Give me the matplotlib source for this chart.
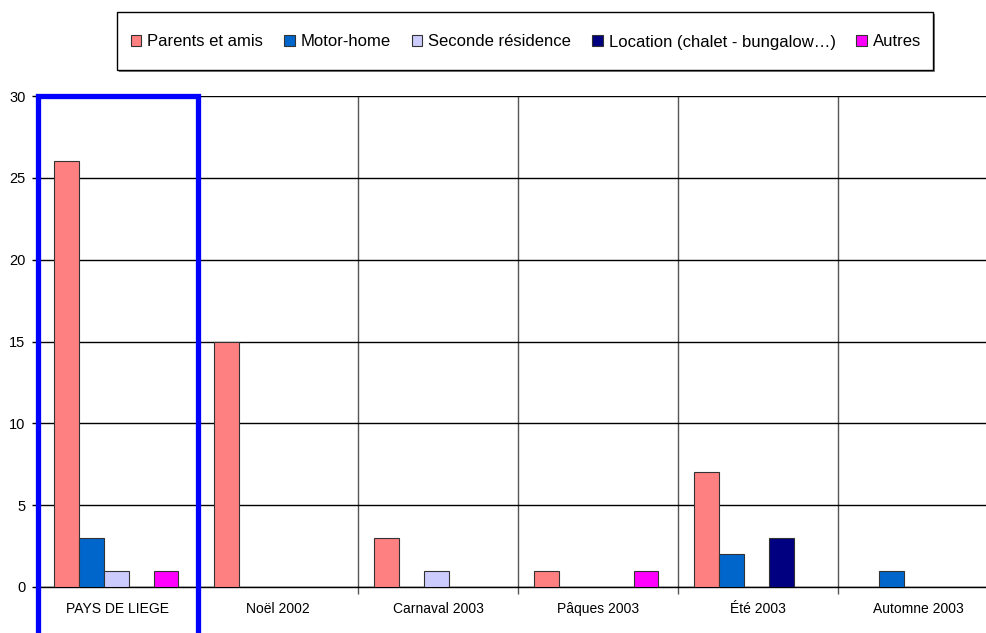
import matplotlib
matplotlib.use("Agg")
import matplotlib.pyplot as plt
import numpy as np
from matplotlib.patches import Rectangle
from matplotlib.lines import Line2D

categories = ["PAYS DE LIEGE", "Noël 2002", "Carnaval 2003", "Pâques 2003", "Été 2003", "Automne 2003"]
series_names = ["Parents et amis", "Motor-home", "Seconde résidence",
                "Location (chalet - bungalow\u2026)", "Autres"]
parents = [26, 15, 3, 1, 7, 0]
motorhome = [3, 0, 0, 0, 2, 1]
seconde = [1, 0, 1, 0, 0, 0]
location = [0, 0, 0, 0, 3, 0]
autres = [1, 0, 0, 1, 0, 0]
series = [parents, motorhome, seconde, location, autres]
colors = ["#FF8080", "#0066CC", "#CCCCFF", "#000080", "#FF00FF"]
yticks = [0, 5, 10, 15, 20, 25, 30]

plt.rcParams['font.family'] = ['Liberation Sans', 'DejaVu Sans']

W, H = 987, 633
fig = plt.figure(figsize=(W / 100, H / 100), dpi=100)
ax = fig.add_axes([38 / W, (H - 587) / H, 960 / W, (587 - 96) / H])

x = np.arange(len(categories))
bw = 0.156
handles = []
for i, (vals, col, name) in enumerate(zip(series, colors, series_names)):
    v = np.array(vals, dtype=float)
    v[v == 0] = np.nan
    offs = (i - 2) * bw - 0.012
    ax.bar(x + offs, v, width=bw, color=col, edgecolor="#333333", linewidth=0.8, zorder=3)
    handles.append(Rectangle((0, 0), 1, 1, facecolor=col, edgecolor="#333333", linewidth=0.8))

ax.set_xlim(-0.5, len(categories) - 0.5)
ax.set_ylim(0, 30)
ax.set_yticks(yticks)
ax.set_yticklabels([str(t) for t in yticks], fontsize=10.5)
ax.set_xticks(np.arange(len(categories) - 1) + 0.5)
ax.set_xticklabels([])
ax.set_xticks(x, minor=True)
ax.set_xticklabels(categories, minor=True, fontsize=10)
ax.tick_params(axis='x', which='minor', length=0, pad=11)
ax.tick_params(axis='x', which='major', length=5, color="#555555", width=1)
ax.tick_params(axis='y', length=4, width=1, pad=5)
ax.grid(axis='y', color='black', linewidth=1, zorder=0)
ax.grid(axis='x', which='major', color='#555555', linewidth=1, zorder=0)
for s in ['top', 'right']:
    ax.spines[s].set_visible(False)
ax.spines['bottom'].set_linewidth(1)
ax.spines['left'].set_linewidth(1)

# highlight box around first category
hl = Line2D([-0.5, -0.5, 0.5, 0.5], [-5, 30, 30, -5], color="#0000FF", linewidth=3.8,
            clip_on=False, zorder=5, solid_joinstyle='miter')
ax.add_line(hl)

# legend box
box = Rectangle((117 / W, 1 - 70 / H), (933 - 117) / W, (70 - 12) / H, transform=fig.transFigure,
                facecolor='white', edgecolor='black', linewidth=1, zorder=1)
shadow = Rectangle((119 / W, 1 - 72 / H), (933 - 117) / W, (70 - 12) / H, transform=fig.transFigure,
                   facecolor='#808080', edgecolor='none', zorder=0.9)
fig.patches.extend([shadow, box])
leg = fig.legend(handles, series_names, loc='center', bbox_to_anchor=(526 / W, 1 - 42 / H),
                 ncol=5, frameon=False, fontsize=12, handlelength=0.65, handleheight=0.65,
                 handletextpad=0.35, columnspacing=1.25)

fig.savefig("out.png", dpi=100)
